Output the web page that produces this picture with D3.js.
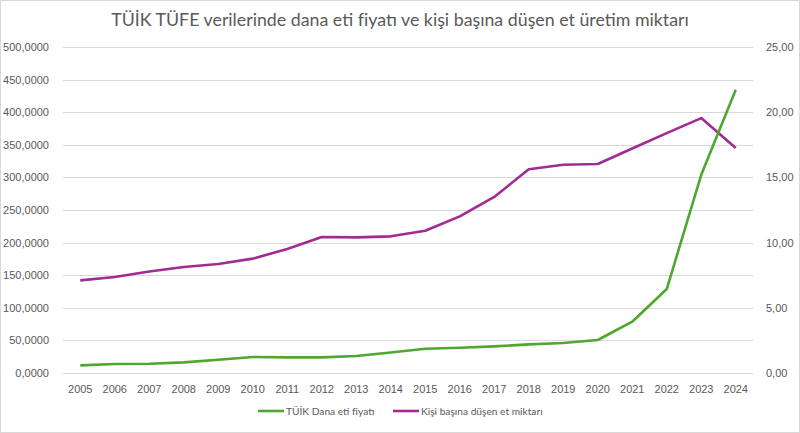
<!DOCTYPE html>
<html lang="tr">
  <head>
    <meta charset="UTF-8" />
    <title>TÜİK TÜFE dana eti</title>
    <style type="text/css">
      body {
        margin: 0;
        background: #ffffff;
        font-family: Lato, "Open Sans", sans-serif;
      }
      svg {
        display: block;
      }
      .axis text {
        fill: #595959;
        font-size: 11px;
      }
      .axis path,
      .axis line {
        display: none;
      }
      .grid line {
        stroke: #d9d9d9;
        stroke-width: 1px;
      }
    </style>
  </head>
  <body>
    <script src="https://d3js.org/d3.v7.min.js"></script>
    <script>
      var years = [2005, 2006, 2007, 2008, 2009, 2010, 2011, 2012, 2013, 2014,
        2015, 2016, 2017, 2018, 2019, 2020, 2021, 2022, 2023, 2024];
      // TÜİK dana eti fiyatı (TL/kg), sol eksen
      var price = [11.7, 13.8, 14.3, 16.3, 20.4, 24.5, 24.0, 23.9, 26.0, 31.5,
        37.3, 38.8, 40.8, 43.9, 46.0, 50.6, 78.7, 128.8, 304.0, 434.5];
      // kişi başına düşen et miktarı (kg), sağ eksen
      var perCapita = [7.10, 7.36, 7.79, 8.13, 8.36, 8.77, 9.51, 10.43, 10.40, 10.48,
        10.91, 12.01, 13.50, 15.62, 15.97, 16.03, 17.22, 18.40, 19.55, 17.25];
      var leftTicks = [0, 50, 100, 150, 200, 250, 300, 350, 400, 450, 500];
      var rightTicks = [0, 5, 10, 15, 20, 25];
      var seriesNames = ["TÜİK Dana eti fiyatı", "Kişi başına düşen et miktarı"];
      var seriesColors = ["#4ea72e", "#a02b93"];

      var width = 800;
      var height = 433;
      var margin = { top: 47, right: 47, bottom: 60, left: 63 };

      var svg = d3.select("body").append("svg")
        .attr("width", width)
        .attr("height", height);

      svg.append("rect")
        .attr("x", 0.5).attr("y", 0.5)
        .attr("width", width - 1).attr("height", height - 1)
        .attr("fill", "#ffffff")
        .attr("stroke", "#d9d9d9");

      var x = d3.scaleBand()
        .domain(years)
        .range([margin.left, width - margin.right]);
      var yLeft = d3.scaleLinear()
        .domain([0, 500])
        .range([height - margin.bottom, margin.top]);
      var yRight = d3.scaleLinear()
        .domain([0, 25])
        .range([height - margin.bottom, margin.top]);

      // Türkçe biçim: virgül ondalık ayırıcı
      var fmtLeft = (d) => d.toFixed(4).replace(".", ",");
      var fmtRight = (d) => d.toFixed(2).replace(".", ",");

      svg.append("g")
        .attr("class", "grid")
        .selectAll("line")
        .data(leftTicks)
        .join("line")
        .attr("x1", margin.left)
        .attr("x2", width - margin.right)
        .attr("y1", (d) => Math.round(yLeft(d)) + 0.5)
        .attr("y2", (d) => Math.round(yLeft(d)) + 0.5);

      svg.append("g")
        .attr("class", "axis")
        .attr("transform", `translate(${margin.left - 11},0)`)
        .call(d3.axisLeft(yLeft).tickValues(leftTicks).tickSize(0).tickFormat(fmtLeft));

      svg.append("g")
        .attr("class", "axis")
        .attr("transform", `translate(${width - margin.right + 10},0)`)
        .call(d3.axisRight(yRight).tickValues(rightTicks).tickSize(0).tickFormat(fmtRight));

      svg.append("g")
        .attr("class", "axis")
        .attr("transform", `translate(0,${height - margin.bottom + 9})`)
        .call(d3.axisBottom(x).tickSize(0));

      var lineLeft = d3.line()
        .x((d, i) => x(years[i]) + x.bandwidth() / 2)
        .y((d) => yLeft(d));
      var lineRight = d3.line()
        .x((d, i) => x(years[i]) + x.bandwidth() / 2)
        .y((d) => yRight(d));

      svg.append("path")
        .datum(perCapita)
        .attr("fill", "none")
        .attr("stroke", seriesColors[1])
        .attr("stroke-width", 2.6)
        .attr("stroke-linejoin", "round")
        .attr("d", lineRight);

      svg.append("path")
        .datum(price)
        .attr("fill", "none")
        .attr("stroke", seriesColors[0])
        .attr("stroke-width", 2.6)
        .attr("stroke-linejoin", "round")
        .attr("d", lineLeft);

      svg.append("text")
        .attr("x", width / 2)
        .attr("y", 26)
        .attr("text-anchor", "middle")
        .attr("fill", "#595959")
        .style("font-size", "17.8px")
        .text("TÜİK TÜFE verilerinde dana eti fiyatı ve kişi başına düşen et üretim miktarı");

      var legendX = [258, 393];
      var legend = svg.append("g")
        .selectAll("g")
        .data(seriesNames)
        .join("g")
        .attr("transform", (d, i) => `translate(${legendX[i]},411)`);
      legend.append("line")
        .attr("x1", 0).attr("x2", 26)
        .attr("stroke", (d, i) => seriesColors[i])
        .attr("stroke-width", 2.6);
      legend.append("text")
        .attr("x", 28)
        .attr("dy", "0.35em")
        .attr("fill", "#595959")
        .style("font-size", "10.2px")
        .text((d) => d);
    </script>
  </body>
</html>
